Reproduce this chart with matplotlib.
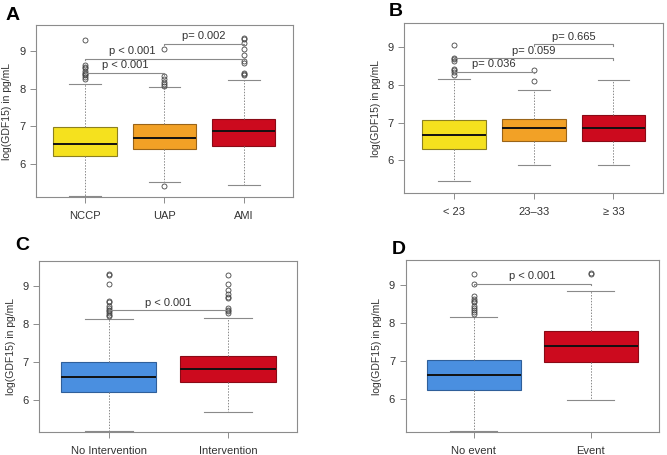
import matplotlib
matplotlib.use('Agg')
import matplotlib.pyplot as plt

plt.rcParams['font.family'] = ['Liberation Sans', 'DejaVu Sans']

# ---- data ----
# A: by diagnosis
a_groups = ['NCCP', 'UAP', 'AMI']
a_q1 = [6.21, 6.40, 6.49]
a_med = [6.53, 6.70, 6.88]
a_q3 = [6.97, 7.07, 7.20]
a_lo = [5.15, 5.53, 5.46]
a_hi = [8.11, 8.04, 8.22]
a_out = [[8.25, 8.30, 8.35, 8.38, 8.41, 8.46, 8.55, 8.58, 8.61, 9.29],
         [5.43, 8.08, 8.12, 8.17, 8.25, 8.33, 9.05],
         [8.36, 8.38, 8.42, 8.68, 8.72, 8.88, 9.05, 9.20, 9.30, 9.34]]
a_pairs = [(1, 2), (1, 3), (2, 3)]
a_pbar = [8.41, 8.79, 9.19]
a_ptext = ['p < 0.001', 'p < 0.001', 'p= 0.002']

# B: by BMI class
b_groups = ['< 23', '23\u201333', '\u2265 33']
b_q1 = [6.31, 6.52, 6.52]
b_med = [6.68, 6.86, 6.85]
b_q3 = [7.06, 7.10, 7.20]
b_lo = [5.46, 5.87, 5.87]
b_hi = [8.16, 7.86, 8.12]
b_out = [[8.25, 8.35, 8.38, 8.42, 8.62, 8.68, 8.72, 9.05],
         [8.09, 8.40],
         []]
b_pairs = [(1, 2), (1, 3), (2, 3)]
b_pbar = [8.34, 8.70, 9.07]
b_ptext = ['p= 0.036', 'p= 0.059', 'p= 0.665']

# C: intervention
c_groups = ['No Intervention', 'Intervention']
c_q1 = [6.21, 6.47]
c_med = [6.59, 6.80]
c_q3 = [7.00, 7.16]
c_lo = [5.17, 5.68]
c_hi = [8.12, 8.17]
c_out = [[8.20, 8.25, 8.30, 8.35, 8.38, 8.42, 8.48, 8.57, 8.60, 9.05, 9.30, 9.33],
         [8.28, 8.35, 8.38, 8.42, 8.68, 8.72, 8.80, 8.90, 9.05, 9.29]]
c_pairs = [(1, 2)]
c_pbar = [8.36]
c_ptext = ['p < 0.001']

# D: events
d_groups = ['No event', 'Event']
d_q1 = [6.26, 6.98]
d_med = [6.64, 7.41]
d_q3 = [7.04, 7.81]
d_lo = [5.17, 5.98]
d_hi = [8.18, 8.85]
d_out = [[8.25, 8.30, 8.35, 8.40, 8.45, 8.55, 8.60, 8.65, 8.72, 9.04, 9.29],
         [9.30, 9.32]]
d_pairs = [(1, 2)]
d_pbar = [9.04]
d_ptext = ['p < 0.001']

yellow, orange, red, blue = '#F5E11E', '#F2A126', '#CC0A1E', '#4A8FE0'
edge = {yellow: '#8C8020', orange: '#9A6418', red: '#8A0A16', blue: '#2F5F9A'}

FRAME = '#8C8C8C'
TXT = '#333333'


def draw_panel(ax, groups, q1, med, q3, lo, hi, out, colors,
               pairs, pbar, ptext, ylim, label_x=None):
    n = len(groups)
    stats = []
    for i in range(n):
        stats.append({'label': groups[i], 'q1': q1[i], 'med': med[i], 'q3': q3[i],
                      'whislo': lo[i], 'whishi': hi[i], 'fliers': out[i]})
    bp = ax.bxp(stats, positions=range(1, n + 1), widths=0.8, patch_artist=True,
                capwidths=0.4,
                boxprops=dict(linewidth=0.8),
                whiskerprops=dict(color='#8A8A8A', linewidth=0.7, linestyle=(0, (1.5, 1.5))),
                capprops=dict(color='#8A8A8A', linewidth=0.8),
                medianprops=dict(color='#111111', linewidth=1.4),
                flierprops=dict(marker='o', markersize=3.6, markerfacecolor='none',
                                markeredgecolor='#444444', markeredgewidth=0.6))
    for patch, c in zip(bp['boxes'], colors):
        patch.set_facecolor(c)
        patch.set_edgecolor(edge[c])

    # significance brackets
    d = 0.04
    for k, ((g1, g2), y, t) in enumerate(zip(pairs, pbar, ptext)):
        ax.plot([g1, g1, g2, g2], [y - d, y, y, y - d], color='#8A8A8A', lw=0.8)
        tx = (g1 + g2) / 2 if label_x is None else label_x[k]
        ax.text(tx, y + 0.07, t, ha='center', va='bottom', fontsize=8, color=TXT)

    ax.set_xlim(0.5 - 0.04 * n, n + 0.5 + 0.04 * n)
    ax.set_ylim(*ylim)
    ax.set_yticks([6, 7, 8, 9])
    ax.set_xticks(range(1, n + 1))
    ax.set_xticklabels(groups)
    for s in ax.spines.values():
        s.set_color(FRAME)
        s.set_linewidth(0.8)
    ax.tick_params(colors=FRAME, labelcolor=TXT, labelsize=8, length=4, width=0.7)
    ax.tick_params(axis='x', pad=6)
    ax.set_ylabel('log(GDF15) in pg/mL', fontsize=7.5, color=TXT, labelpad=5)


fig = plt.figure(figsize=(6.67, 4.55), dpi=100)

axA = fig.add_axes([0.054, 0.567, 0.385, 0.378])
axB = fig.add_axes([0.606, 0.575, 0.388, 0.375])
axC = fig.add_axes([0.059, 0.051, 0.387, 0.375])
axD = fig.add_axes([0.608, 0.051, 0.380, 0.377])

draw_panel(axA, a_groups, a_q1, a_med, a_q3, a_lo, a_hi, a_out, [yellow, orange, red],
           a_pairs, a_pbar, a_ptext, (5.13, 9.68), label_x=[1.5, 1.6, 2.5])
draw_panel(axB, b_groups, b_q1, b_med, b_q3, b_lo, b_hi, b_out, [yellow, orange, red],
           b_pairs, b_pbar, b_ptext, (5.13, 9.64))
draw_panel(axC, c_groups, c_q1, c_med, c_q3, c_lo, c_hi, c_out, [blue, red],
           c_pairs, c_pbar, c_ptext, (5.15, 9.66))
draw_panel(axD, d_groups, d_q1, d_med, d_q3, d_lo, d_hi, d_out, [blue, red],
           d_pairs, d_pbar, d_ptext, (5.15, 9.66))

for x, y, s in [(0.019, 0.967, 'A'), (0.593, 0.974, 'B'),
                (0.034, 0.460, 'C'), (0.598, 0.452, 'D')]:
    fig.text(x, y, s, fontsize=14, fontweight='bold', ha='center', va='center')

fig.savefig('out.png', dpi=100)
